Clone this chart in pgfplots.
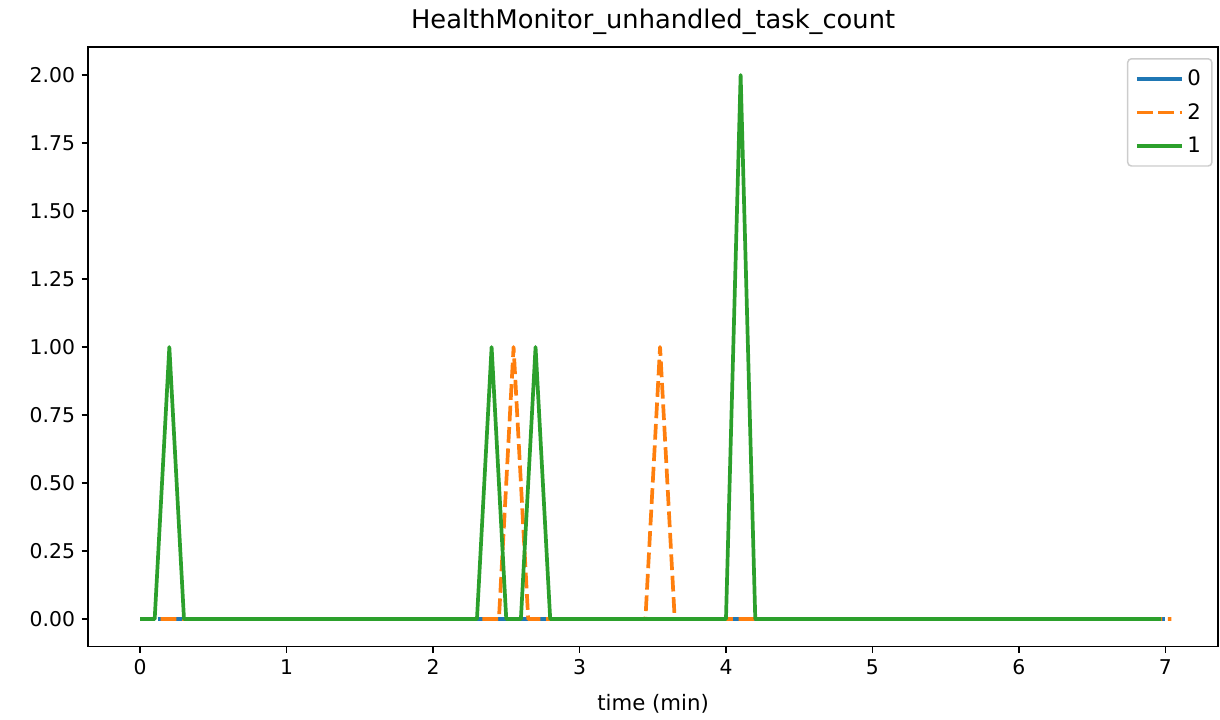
\documentclass[border=0pt]{standalone}
\usepackage{pgfplots}
\pgfplotsset{compat=1.18}
\usepackage{fontspec}
\setmainfont{DejaVu Sans}

\definecolor{c0}{HTML}{1F77B4}
\definecolor{c1}{HTML}{FF7F0E}
\definecolor{c2}{HTML}{2CA02C}

\begin{document}
\begin{tikzpicture}
\begin{axis}[
  scale only axis,
  width=611pt, height=324pt,
  xmin=-0.355, xmax=7.36,
  ymin=-0.1, ymax=2.103,
  xtick={0,1,...,7},
  ytick={0,0.25,...,2.0},
  yticklabel style={/pgf/number format/.cd, fixed, fixed zerofill, precision=2},
  /pgf/number format/assume math mode=true,
  tick align=outside,
  major tick length=3.5pt,
  tick style={black, line width=0.8pt},
  axis line style={line width=0.8pt},
  ticklabel style={font=\fontsize{11}{13}\selectfont},
  xtick pos=bottom, ytick pos=left,
  title={HealthMonitor\_unhandled\_task\_count},
  title style={font=\fontsize{13.9}{16}\selectfont, yshift=-3pt},
  xlabel={time (min)},
  xlabel style={font=\fontsize{11.5}{13}\selectfont, yshift=-4pt},
  legend style={at={(1,1)}, anchor=north east, xshift=-3pt, yshift=-6pt,
    draw=black!20, rounded corners=2pt, line width=0.8pt,
    font=\fontsize{11.5}{13}\selectfont, row sep=4pt, inner sep=4pt},
  legend cell align=left,
  legend image code/.code={\draw[#1] (0cm,0cm) -- (0.85cm,0cm);},
  every axis plot/.append style={line width=2pt, line join=round},
]
\addplot[c0] coordinates {(0.12,0) (7.0,0)};
\addlegendentry{0}
\addplot[c1, dash pattern=on 8.5pt off 3.1pt] coordinates {
  (0.14,0) (2.45,0) (2.55,1) (2.65,0) (3.45,0) (3.55,1) (3.65,0) (7.04,0)};
\addlegendentry{2}
\addplot[c2] coordinates {
  (0,0) (0.1,0) (0.2,1) (0.3,0) (2.3,0) (2.4,1) (2.5,0) (2.6,0)
  (2.7,1) (2.8,0) (4.0,0) (4.1,2) (4.2,0) (6.97,0)};
\addlegendentry{1}
\end{axis}
\path (current axis.south west) ++(-47.6pt,-37.8pt) coordinate (bl);
\path (current axis.north east) ++(1pt,25.4pt) coordinate (tr);
\path (bl) (tr);
\end{tikzpicture}
\end{document}
